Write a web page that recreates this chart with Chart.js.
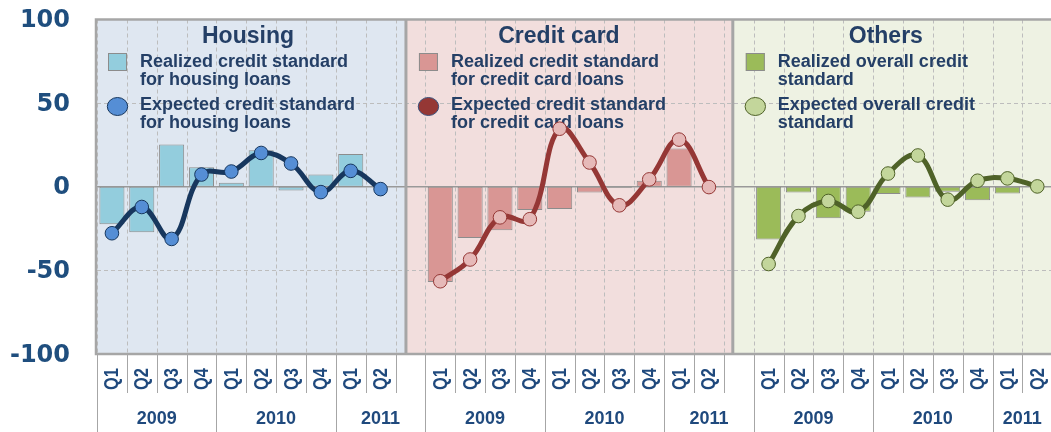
<!DOCTYPE html>
<html>
<head>
<meta charset="utf-8">
<script src="https://cdn.jsdelivr.net/npm/chart.js@4.4.0/dist/chart.umd.min.js"></script>
<style>
  html, body { margin: 0; padding: 0; width: 1051px; height: 432px; overflow: hidden; background: #fff; }
  canvas { display: block; }
</style>
</head>
<body>
<canvas id="chart" width="1060" height="432"></canvas>
<script>
'use strict';

// ── Data ───────────────────────────────────────────────────
const quarters = ['Q1', 'Q2', 'Q3', 'Q4', 'Q1', 'Q2', 'Q3', 'Q4', 'Q1', 'Q2'];
const years = ['2009', '2010', '2011'];
const yearSizes = [4, 4, 3];          // quarters (+ blank slot) under each year
const yTicks = [100, 50, 0, -50, -100];

const panelTitles = ['Housing', 'Credit card', 'Others'];
const realizedText = [
  ['Realized credit standard', 'for housing loans'],
  ['Realized credit standard', 'for credit card loans'],
  ['Realized overall credit', 'standard']
];
const expectedText = [
  ['Expected credit standard', 'for housing loans'],
  ['Expected credit standard', 'for credit card loans'],
  ['Expected overall credit', 'standard']
];

const housingRealized = [-22.4, -27.2, 25.2, 11.7, 2.4, 21.8, -2.2, 7.3, 19.6, null];
const housingExpected = [-27.8, -12.1, -31.2, 7.3, 9.1, 20.2, 13.9, -3.2, 9.5, -1.4];
const cardRealized    = [-57.0, -30.6, -26.0, -13.9, -13.3, -3.4, -0.6, 3.6, 22.8, null];
const cardExpected    = [-56.5, -43.5, -18.3, -19.4, 34.7, 14.5, -11.1, 4.4, 28.2, -0.2];
const otherRealized   = [-31.5, -3.4, -18.8, -14.9, -4.4, -6.5, -3.0, -8.1, -4.0, null];
const otherExpected   = [-46.2, -17.5, -8.5, -14.9, 7.9, 18.7, -7.7, 3.6, 5.0, 0.2];

// ── Styling ────────────────────────────────────────────────
const STYLE = [
  { bg: '#DFE7F1', bar: '#93CDDD', line: '#17375E', point: '#558ED5' },
  { bg: '#F2DEDD', bar: '#D99694', line: '#953735', point: '#E6B9B8' },
  { bg: '#EEF2E3', bar: '#9BBB59', line: '#4F6228', point: '#C3D69B' }
];
const AXIS_BLUE = '#1F497D';
const TEXT_NAVY = '#243F66';
const GRID = '#BDBDBD';
const FRAME = '#A6A6A6';
const SLOT = 11;                                  // 10 quarters + 1 blank per panel
const panelEdges = [-0.5, 9.85, 20.8, 31.5];      // panel borders, in category units

const labels = [];
panelTitles.forEach((_, i) => {
  labels.push(...quarters);
  if (i < panelTitles.length - 1) labels.push('');
});

function place(values, panel) {
  const out = new Array(labels.length).fill(null);
  values.forEach((v, i) => { out[panel * SLOT + i] = v; });
  return out;
}

const realized = [housingRealized, cardRealized, otherRealized];
const expected = [housingExpected, cardExpected, otherExpected];

const datasets = [];
expected.forEach((vals, p) => datasets.push({
  type: 'line',
  data: place(vals, p),
  borderColor: STYLE[p].line,
  borderWidth: 5,
  tension: 0.4,
  fill: false,
  spanGaps: false,
  pointRadius: 6.8,
  pointBorderWidth: 1,
  pointBackgroundColor: STYLE[p].point,
  pointBorderColor: STYLE[p].line,
  order: 0
}));
realized.forEach((vals, p) => datasets.push({
  type: 'bar',
  data: place(vals, p),
  backgroundColor: STYLE[p].bar,
  borderColor: '#8C8C8C',
  borderWidth: 1,
  borderSkipped: false,
  grouped: false,
  barPercentage: 0.84,
  categoryPercentage: 1,
  order: 1
}));

// ── Panels, grid, legend text and axes drawn on the scales ─
const panelPlugin = {
  id: 'panels',
  beforeDatasetsDraw(chart) {
    const { ctx, chartArea: a, scales: { x, y } } = chart;
    const px = v => x.getPixelForValue(v);
    ctx.save();
    // backgrounds
    STYLE.forEach((s, p) => {
      const l = px(panelEdges[p]), r = px(panelEdges[p + 1]);
      ctx.fillStyle = s.bg;
      ctx.fillRect(l, a.top, r - l, a.bottom - a.top);
    });
    // dashed grid
    ctx.strokeStyle = GRID;
    ctx.lineWidth = 1;
    ctx.setLineDash([4, 3]);
    for (let k = 0; k <= labels.length; k++) {
      const gx = Math.round(px(k - 0.5)) + 0.5;
      ctx.beginPath(); ctx.moveTo(gx, a.top); ctx.lineTo(gx, a.bottom); ctx.stroke();
    }
    [50, -50].forEach(v => {
      const gy = Math.round(y.getPixelForValue(v)) + 0.5;
      ctx.beginPath(); ctx.moveTo(a.left, gy); ctx.lineTo(a.right, gy); ctx.stroke();
    });
    ctx.setLineDash([]);
    // zero line
    ctx.strokeStyle = '#999999';
    ctx.lineWidth = 1.3;
    const zy = y.getPixelForValue(0);
    ctx.beginPath(); ctx.moveTo(a.left, zy); ctx.lineTo(a.right, zy); ctx.stroke();

    // titles and legends
    panelTitles.forEach((t, p) => {
      const left = px(panelEdges[p]) + (p === 0 ? 0 : 2);
      ctx.fillStyle = TEXT_NAVY;
      ctx.textAlign = 'center';
      ctx.textBaseline = 'alphabetic';
      ctx.font = 'bold 23px "Liberation Sans", Arial, sans-serif';
      ctx.fillText(t, left + 151, 42.5);

      ctx.textAlign = 'left';
      ctx.font = 'bold 18px "Liberation Sans", Arial, sans-serif';
      const tx = left + 43;
      ctx.fillText(realizedText[p][0], tx, 67);
      ctx.fillText(realizedText[p][1], tx, 85);
      ctx.fillText(expectedText[p][0], tx, 110);
      ctx.fillText(expectedText[p][1], tx, 128);

      ctx.fillStyle = STYLE[p].bar;
      ctx.strokeStyle = '#8C8C8C';
      ctx.lineWidth = 1;
      ctx.fillRect(left + 11, 53, 19, 18);
      ctx.strokeRect(left + 11.5, 53.5, 18, 17);

      ctx.beginPath();
      ctx.ellipse(left + 20.5, 106.5, 10.2, 9, 0, 0, Math.PI * 2);
      ctx.fillStyle = p === 1 ? STYLE[p].line : STYLE[p].point;
      ctx.fill();
      ctx.strokeStyle = p === 1 ? '#3B4F7A' : STYLE[p].line;
      ctx.stroke();
    });
    ctx.restore();
  },
  afterDatasetsDraw(chart) {
    const { ctx, chartArea: a, scales: { x } } = chart;
    ctx.save();
    ctx.strokeStyle = FRAME;
    ctx.lineWidth = 2.5;
    ctx.beginPath();
    ctx.moveTo(a.right + 2, a.top); ctx.lineTo(a.left - 1, a.top);
    ctx.lineTo(a.left - 1, a.bottom); ctx.lineTo(a.right + 2, a.bottom);
    ctx.stroke();
    ctx.lineWidth = 3;
    [panelEdges[1], panelEdges[2]].forEach(v => {
      const sx = x.getPixelForValue(v);
      ctx.beginPath(); ctx.moveTo(sx, a.top); ctx.lineTo(sx, a.bottom); ctx.stroke();
    });
    ctx.restore();
  },
  afterDraw(chart) {
    const { ctx, chartArea: a, scales: { x, y } } = chart;
    const px = v => x.getPixelForValue(v);
    ctx.save();
    // y labels
    ctx.fillStyle = '#1F4E7E';
    ctx.font = 'bold 24px "DejaVu Sans", sans-serif';
    ctx.textAlign = 'right';
    ctx.textBaseline = 'middle';
    yTicks.forEach(v => ctx.fillText(String(v), 70, y.getPixelForValue(v) + 1.5));

    // category separators (short) and year separators (long)
    const longAt = new Set();
    let idx = 0;
    panelTitles.forEach(() => {
      yearSizes.forEach(n => {
        longAt.add(idx);
        idx = Math.min(idx + n, labels.length);
        longAt.add(idx);
      });
    });
    ctx.strokeStyle = FRAME;
    ctx.lineWidth = 1;
    for (let k = 0; k <= labels.length; k++) {
      const sx = Math.round(px(k - 0.5)) + 0.5;
      ctx.beginPath();
      ctx.moveTo(sx, a.bottom + 1);
      ctx.lineTo(sx, longAt.has(k) ? 432 : 393);
      ctx.stroke();
    }

    // quarter labels, rotated and condensed
    ctx.fillStyle = AXIS_BLUE;
    ctx.font = 'bold 20px "Liberation Sans", Arial, sans-serif';
    ctx.textAlign = 'center';
    ctx.textBaseline = 'middle';
    labels.forEach((lab, i) => {
      if (!lab) return;
      ctx.save();
      ctx.translate(px(i) + 1, 379);
      ctx.rotate(-Math.PI / 2);
      ctx.scale(0.82, 1);
      ctx.fillText(lab, 0, 0);
      ctx.restore();
    });

    // year labels
    ctx.font = 'bold 18px "Liberation Sans", Arial, sans-serif';
    idx = 0;
    panelTitles.forEach(() => {
      yearSizes.forEach((n, j) => {
        const end = Math.min(idx + n, labels.length);
        ctx.fillText(years[j], (px(idx - 0.5) + px(end - 0.5)) / 2, 419);
        idx = end;
      });
    });
    ctx.restore();
  }
};

new Chart(document.getElementById('chart').getContext('2d'), {
  data: { labels, datasets },
  options: {
    responsive: false,
    animation: false,
    layout: { padding: { left: 97, top: 19.5, right: 6, bottom: 78 } },
    scales: {
      x: { type: 'category', display: false, offset: true },
      y: { display: false, min: -100, max: 100 }
    },
    plugins: {
      legend: { display: false },
      tooltip: { enabled: false }
    }
  },
  plugins: [panelPlugin]
});
</script>
</body>
</html>
